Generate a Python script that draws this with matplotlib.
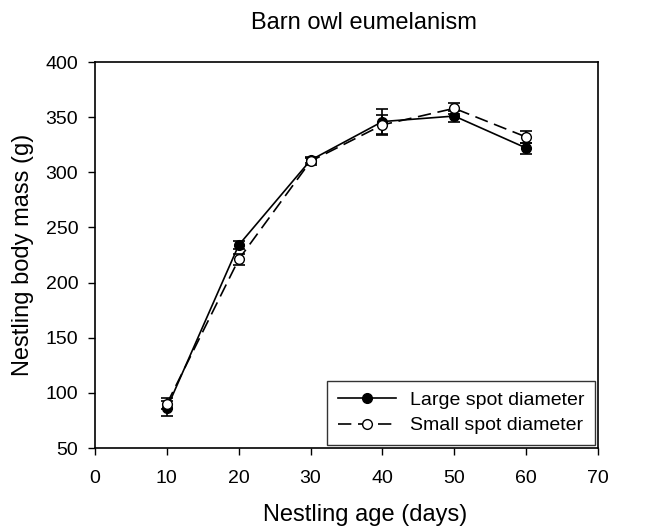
import matplotlib.pyplot as plt
from matplotlib.lines import Line2D

plt.rcParams['font.family'] = ['Liberation Sans', 'DejaVu Sans']

age = [10, 20, 30, 40, 50, 60]
large_mass = [86, 234, 311, 346, 351, 322]
large_se = [7, 4, 3, 11, 5, 5]
small_mass = [90, 221, 310, 343, 358, 332]
small_se = [5, 5, 3, 9, 5, 5]

fig = plt.figure(figsize=(6.47, 5.30), dpi=100)
ax = fig.add_axes([0.1468, 0.1547, 0.7775, 0.7283])

dash = (0, (8, 4))
ax.errorbar(age, large_mass, yerr=large_se, color='black', linestyle='-',
            linewidth=1.2, marker='o', markersize=7, markerfacecolor='black',
            markeredgecolor='black', capsize=4.5, elinewidth=1.2, capthick=1.2,
            zorder=3)
ax.errorbar(age, small_mass, yerr=small_se, color='black', linestyle=dash,
            linewidth=1.2, marker='o', markersize=7, markerfacecolor='white',
            markeredgecolor='black', capsize=4.5, elinewidth=1.2, capthick=1.2,
            zorder=4)

ax.set_xlim(0, 70)
ax.set_ylim(50, 400)
ax.set_xticks(range(0, 71, 10))
ax.set_yticks(range(50, 401, 50))
ax.tick_params(direction='out', length=5, width=1, labelsize=14,
               top=False, right=False)
ax.tick_params(axis='x', pad=11)
ax.tick_params(axis='y', pad=7)
for s in ax.spines.values():
    s.set_linewidth(1.2)

ax.set_xlabel('Nestling age (days)', fontsize=17)
ax.xaxis.set_label_coords(0.537, -0.145)
ax.set_ylabel('Nestling body mass (g)', fontsize=17, labelpad=8)
fig.text(0.563, 0.957, 'Barn owl eumelanism', fontsize=17, ha='center', va='center')

# legend without error bars, as in the original
handles = [
    Line2D([], [], color='black', linestyle='-', linewidth=1.2, marker='o',
           markersize=7, markerfacecolor='black', markeredgecolor='black'),
    Line2D([], [], color='black', linestyle=dash, linewidth=1.2, marker='o',
           markersize=7, markerfacecolor='white', markeredgecolor='black'),
]
leg = ax.legend(handles, ['Large spot diameter', 'Small spot diameter'],
                loc='lower right', fontsize=14, frameon=True, fancybox=False,
                edgecolor='black', borderaxespad=0.15, handlelength=3.0,
                borderpad=0.55, labelspacing=0.4, handletextpad=0.7)
leg.get_frame().set_linewidth(1.0)

fig.savefig('out.png', dpi=100)
